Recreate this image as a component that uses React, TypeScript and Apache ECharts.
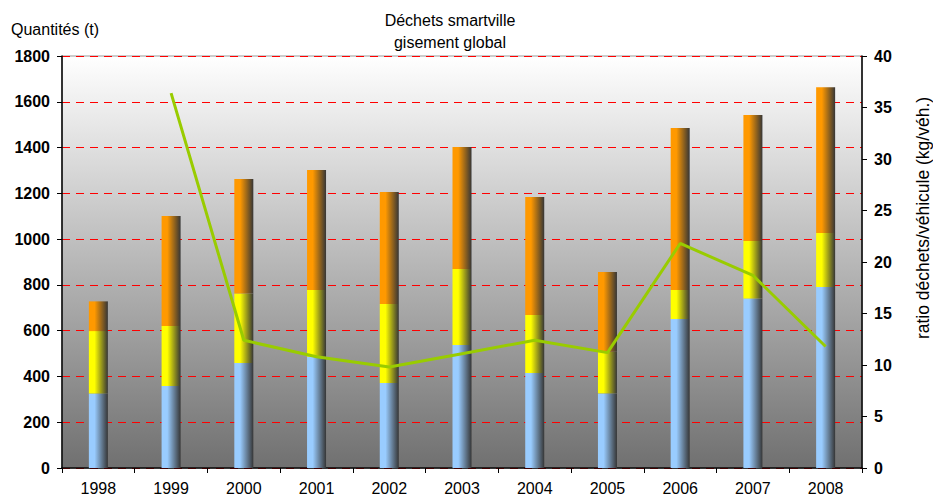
import React, { useEffect, useRef } from "react";
import * as echarts from "echarts";

const years = ["1998", "1999", "2000", "2001", "2002", "2003", "2004", "2005", "2006", "2007", "2008"];
const blueValues = [326, 358, 459, 486, 371, 537, 415, 326, 651, 741, 791];
const yellowValues = [272, 262, 303, 292, 345, 332, 253, 182, 127, 251, 236];
const orangeValues = [130, 481, 501, 524, 490, 533, 516, 348, 707, 550, 637];
const ratioValues: (number | null)[] = [null, 36.4, 12.4, 10.8, 9.8, 11.1, 12.4, 11.2, 21.8, 18.7, 11.8];
const leftTicks = [0, 1800, 200];
const rightTicks = [0, 40, 5];

const FONT = "'Liberation Sans', Arial, sans-serif";

function hGrad(c: string) {
  return new echarts.graphic.LinearGradient(0, 0, 1, 0, [
    { offset: 0, color: c },
    { offset: 0.3, color: c },
    { offset: 1, color: "#363636" },
  ]);
}

export default function App() {
  const ref = useRef<HTMLDivElement>(null);
  useEffect(() => {
    if (!ref.current) return;
    const chart = echarts.init(ref.current, undefined, { renderer: "svg" });
    chart.setOption({
      animation: false,
      backgroundColor: "#ffffff",
      textStyle: { fontFamily: FONT },
      title: {
        text: "Déchets smartville\ngisement global",
        left: 445,
        textAlign: "center",
        top: 4,
        textStyle: { fontSize: 16, fontWeight: "normal", color: "#000", lineHeight: 22, fontFamily: FONT },
      },
      grid: {
        left: 62,
        right: 71,
        top: 56,
        bottom: 31,
        show: true,
        borderWidth: 1,
        borderColor: "#999",
        backgroundColor: new echarts.graphic.LinearGradient(0, 0, 0, 1, [
          { offset: 0, color: "#ffffff" },
          { offset: 1, color: "#707070" },
        ]),
      },
      graphic: [
        {
          type: "text",
          left: 11,
          top: 21,
          style: { text: "Quantités (t)", fontSize: 16, fill: "#000", fontFamily: FONT },
        },
        {
          type: "text",
          x: 923,
          y: 218,
          rotation: Math.PI / 2,
          style: {
            text: "ratio déchets/véhicule (kg/véh.)",
            fontSize: 17.5,
            fill: "#000",
            fontFamily: FONT,
            align: "center",
            verticalAlign: "middle",
          },
        },
      ],
      xAxis: {
        type: "category",
        data: years,
        axisLine: { lineStyle: { color: "#000", width: 1.5 } },
        axisTick: { show: true, length: 5, lineStyle: { color: "#000" } },
        axisLabel: { fontSize: 16, color: "#000", margin: 12, fontFamily: FONT },
      },
      yAxis: [
        {
          type: "value",
          min: leftTicks[0],
          max: leftTicks[1],
          interval: leftTicks[2],
          axisLine: { show: true, lineStyle: { color: "#000", width: 1.5 } },
          axisTick: { show: true, length: 5, lineStyle: { color: "#000" } },
          axisLabel: {
            fontSize: 16,
            fontWeight: "bold",
            color: "#000",
            margin: 12,
            fontFamily: FONT,
            formatter: (v: number) => String(v),
          },
          splitLine: { show: true, lineStyle: { color: "#ff0000", type: [8, 6], width: 1 } },
        },
        {
          type: "value",
          min: rightTicks[0],
          max: rightTicks[1],
          interval: rightTicks[2],
          position: "right",
          axisLine: { show: true, lineStyle: { color: "#000", width: 1.5 } },
          axisTick: { show: true, length: 5, lineStyle: { color: "#000" } },
          axisLabel: {
            fontSize: 16,
            fontWeight: "bold",
            color: "#000",
            margin: 12,
            fontFamily: FONT,
            formatter: (v: number) => String(v),
          },
          splitLine: { show: false },
        },
      ],
      series: [
        {
          type: "bar",
          stack: "total",
          data: blueValues,
          barWidth: 19,
          itemStyle: { color: hGrad("#99ccff") },
        },
        {
          type: "bar",
          stack: "total",
          data: yellowValues,
          barWidth: 19,
          itemStyle: { color: hGrad("#ffff00") },
        },
        {
          type: "bar",
          stack: "total",
          data: orangeValues,
          barWidth: 19,
          itemStyle: { color: hGrad("#ff9900") },
        },
        {
          type: "line",
          yAxisIndex: 1,
          data: ratioValues,
          showSymbol: false,
          symbol: "none",
          lineStyle: { color: "#99cc00", width: 3 },
          z: 5,
        },
      ],
    });
    return () => chart.dispose();
  }, []);
  return <div ref={ref} style={{ width: 933, height: 499, position: "absolute", left: 0, top: 0 }} />;
}
